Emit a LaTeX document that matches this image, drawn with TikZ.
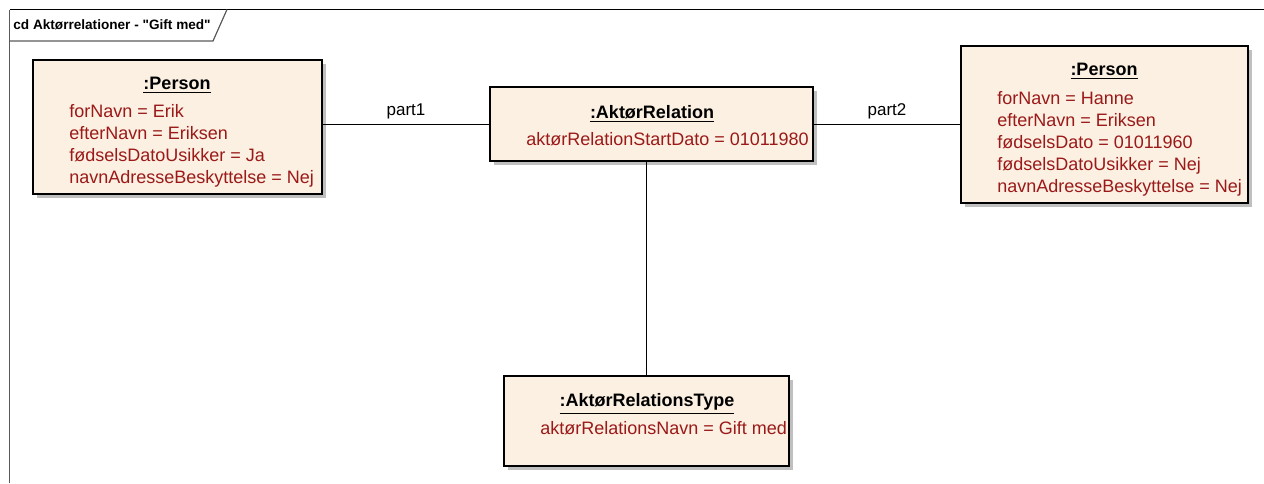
\documentclass[tikz,border=0pt]{standalone}
\usepackage{fontspec}
\setmainfont{Liberation Sans}
\usetikzlibrary{shadows}
\definecolor{objfill}{RGB}{251,240,225}
\definecolor{attrred}{RGB}{155,25,25}
\definecolor{framegray}{RGB}{90,90,90}

\begin{document}
\begin{tikzpicture}[x=0.5pt,y=-0.5pt,
    objbox/.style={draw=black,line width=0.6pt,fill=objfill,minimum width=#1,inner sep=0pt,
        drop shadow={shadow xshift=2pt,shadow yshift=-2pt,fill=black!25,opacity=1}},
    objtitle/.style={anchor=base,inner sep=0pt,font=\fontsize{9}{11}\selectfont\bfseries},
    objattr/.style={anchor=north west,inner sep=0pt,align=left,text=attrred,font=\fontsize{9}{11}\selectfont},
    link/.style={draw=black,line width=0.5pt},
    linklabel/.style={above,inner sep=2pt,font=\fontsize{8.5}{10}\selectfont}]
    \useasboundingbox (0,0) rectangle (1264,483);
    \draw[black,line width=0.6pt] (1264,9.5) -- (9.5,9.5);
    \draw[framegray,line width=0.7pt] (9.5,9.5) -- (9.5,483);
    \draw[framegray,line width=0.6pt] (9.5,41) -- (213,41) -- (227,9.5);
    \node[anchor=west,inner sep=0pt,font=\fontsize{6.8}{8}\selectfont\bfseries] (frametitle) at (13,25) {cd Aktørrelationer - \textquotedbl Gift med\textquotedbl};
    \node[objbox=144.5pt,minimum height=67pt] (person1) at (177.5,127) {};
    \node[objbox=161.5pt,minimum height=37pt] (relation) at (651.5,124) {};
    \node[objbox=143.5pt,minimum height=78.5pt] (person2) at (1104.5,124.5) {};
    \node[objbox=142.5pt,minimum height=45pt] (relationtype) at (646.5,421) {};
    \node[objtitle] (person1title) at (177,89.5) {\underline{:Person}};
    \node[objattr] (person1attr) at (69,104) {forNavn = Erik\\efterNavn = Eriksen\\fødselsDatoUsikker = Ja\\navnAdresseBeskyttelse = Nej};
    \node[objtitle] (relationtitle) at (652,118.5) {\underline{:AktørRelation}};
    \node[objattr] (relationattr) at (526,132) {aktørRelationStartDato = 01011980};
    \node[objtitle] (person2title) at (1104,75.5) {\underline{:Person}};
    \node[objattr] (person2attr) at (997,91) {forNavn = Hanne\\efterNavn = Eriksen\\fødselsDato = 01011960\\fødselsDatoUsikker = Nej\\navnAdresseBeskyttelse = Nej};
    \node[objtitle] (relationtypetitle) at (647,406.5) {\underline{:AktørRelationsType}};
    \node[objattr] (relationtypeattr) at (540,421) {aktørRelationsNavn = Gift med};
    \draw[link] (relation.west) -- node[linklabel] {part1} (relation.west -| person1.east);
    \draw[link] (relation.east) -- node[linklabel] {part2} (relation.east -| person2.west);
    \draw[link] (relationtype.north) -- (relationtype.north |- relation.south);
\end{tikzpicture}
\end{document}
